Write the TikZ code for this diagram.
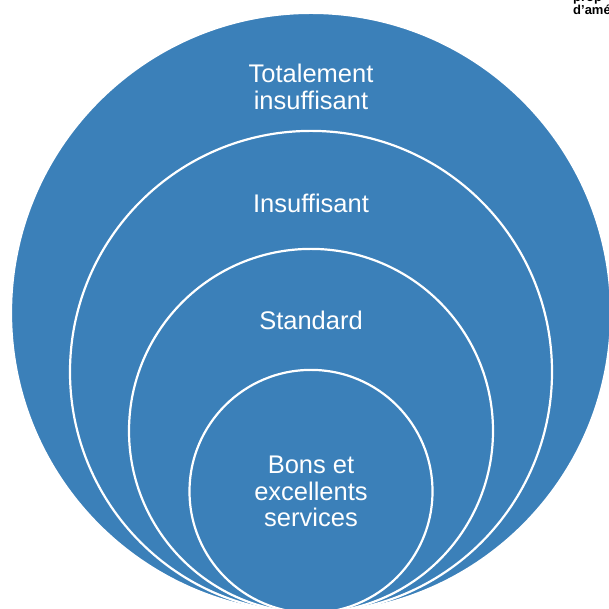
\documentclass[tikz,border=0pt]{standalone}
\usepackage{fontspec}
\setmainfont{Liberation Sans}
\usepackage{tikz}
\usetikzlibrary{positioning}
\usetikzlibrary{calc}
\definecolor{ringblue}{RGB}{59,128,185}

\begin{document}
\begin{tikzpicture}[x = 1pt, y = 1pt, ring/.style = {circle, fill = ringblue, draw = white, line width = 2.2pt, inner sep = 0pt, anchor = south}, lbl/.style = {text = white, align = center, font = \fontsize{25.5}{26.5}\selectfont}, note/.style = {text = black, align = left, anchor = north west, inner sep = 0pt, font = \bfseries\fontsize{13}{11}\selectfont}]
	\useasboundingbox (0,0) rectangle (608,609);
	\coordinate (base) at (311,-5);
	\node[ring, minimum size = 600pt] (outer) at (base) {};
	\node[ring, minimum size = 482pt] (insuf) at (base) {};
	\node[ring, minimum size = 364pt] (std) at (base) {};
	\node[ring, minimum size = 243pt] (good) at (base) {};
	\node[lbl] (tTot) at (311,522) {Totalement\\insuffisant};
	\node[lbl] (tIns) at (311,406) {Insuffisant};
	\node[lbl] (tStd) at (311,289) {Standard};
	\node[lbl] (tGood) at (good.center) {Bons et\\excellents\\services};
	\node[note] (corner) at (573,615) {prop\\d'amé};
\end{tikzpicture}
\end{document}
